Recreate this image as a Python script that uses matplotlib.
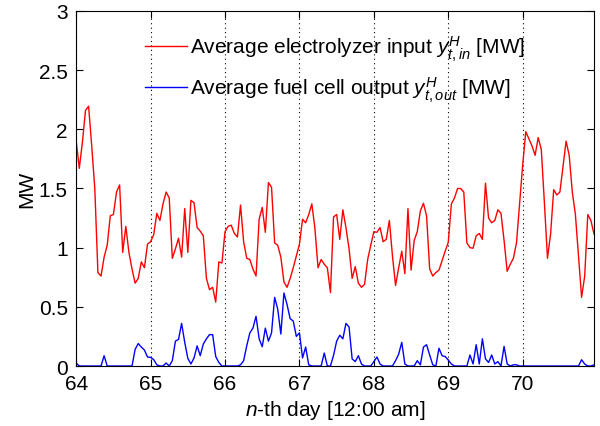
import numpy as np
import matplotlib.pyplot as plt

plt.rcParams['font.family'] = ['Liberation Sans', 'DejaVu Sans']
plt.rcParams['mathtext.fontset'] = 'custom'
plt.rcParams['mathtext.rm'] = 'Liberation Sans'
plt.rcParams['mathtext.it'] = 'Liberation Sans:italic'

start_day = 64

electrolyzer_in = [
    1.90, 1.67, 1.89, 2.16, 2.195, 1.86, 1.50, 0.79, 0.76, 0.92, 1.02, 1.27,
    1.28, 1.47, 1.53, 0.96, 1.18, 0.96, 0.82, 0.70, 0.74, 0.88, 0.83, 1.03,
    1.05, 1.11, 1.29, 1.23, 1.37, 1.47, 1.42, 0.91, 0.99, 1.08, 0.92, 1.33,
    0.96, 1.40, 1.38, 1.17, 1.14, 1.10, 0.74, 0.645, 0.665, 0.54, 0.88, 0.87,
    1.135, 1.18, 1.19, 1.12, 1.09, 1.36, 1.05, 0.91, 0.90, 0.82, 0.76, 1.24,
    1.34, 1.13, 1.55, 1.51, 1.04, 1.02, 0.92, 0.71, 0.665, 0.74, 0.83, 0.93,
    1.03, 1.24, 1.21, 1.28, 1.37, 1.16, 0.83, 0.90, 0.86, 0.83, 0.62, 1.26,
    1.28, 1.07, 1.32, 1.17, 0.99, 0.74, 0.84, 0.70, 0.665, 0.69, 0.90, 1.02,
    1.135, 1.13, 1.17, 1.05, 1.07, 1.23, 0.93, 0.68, 0.83, 0.97, 0.78, 1.33,
    0.81, 1.06, 1.135, 1.31, 1.375, 1.27, 0.82, 0.76, 0.79, 0.81, 0.89, 0.97,
    1.045, 1.37, 1.42, 1.50, 1.50, 1.47, 1.04, 1.00, 0.995, 1.10, 1.12, 1.07,
    1.545, 1.25, 1.21, 1.23, 1.32, 1.29, 1.06, 0.80, 0.86, 0.91, 1.04, 1.37,
    1.70, 1.98, 1.92, 1.86, 1.78, 1.93, 1.83, 1.38, 0.91, 1.115, 1.49, 1.445,
    1.47, 1.685, 1.90, 1.78, 1.47, 1.28, 0.93, 0.58, 0.76, 1.28, 1.23, 1.115,
]

fuel_cell_out = [
    0.025, 0.0, 0.0, 0.0, 0.0, 0.0, 0.0, 0.0, 0.0, 0.087, 0.0, 0.0,
    0.0, 0.0, 0.0, 0.0, 0.0, 0.0, 0.0, 0.14, 0.19, 0.16, 0.135, 0.076,
    0.073, 0.054, 0.01, 0.0, 0.0, 0.025, 0.0, 0.045, 0.21, 0.225, 0.36, 0.20,
    0.065, 0.017, 0.068, 0.17, 0.087, 0.186, 0.23, 0.265, 0.265, 0.08, 0.03, 0.0,
    0.0, 0.0, 0.0, 0.0, 0.0, 0.01, 0.045, 0.17, 0.28, 0.32, 0.42, 0.23,
    0.163, 0.32, 0.21, 0.28, 0.58, 0.48, 0.27, 0.617, 0.52, 0.40, 0.38, 0.25,
    0.28, 0.068, 0.16, 0.01, 0.0, 0.0, 0.0, 0.0, 0.11, 0.0, 0.0, 0.09,
    0.21, 0.26, 0.23, 0.36, 0.33, 0.06, 0.037, 0.087, 0.017, 0.0, 0.0, 0.0,
    0.037, 0.076, 0.017, 0.0, 0.0, 0.0, 0.0, 0.045, 0.10, 0.20, 0.017, 0.0,
    0.0, 0.0, 0.045, 0.01, 0.16, 0.18, 0.093, 0.01, 0.0, 0.15, 0.087, 0.08,
    0.05, 0.017, 0.0, 0.0, 0.0, 0.0, 0.0, 0.093, 0.017, 0.18, 0.017, 0.23,
    0.06, 0.03, 0.093, 0.017, 0.037, 0.0, 0.166, 0.017, 0.0, 0.01, 0.01, 0.0,
    0.0, 0.0, 0.0, 0.0, 0.0, 0.0, 0.0, 0.0, 0.0, 0.0, 0.0, 0.0,
    0.0, 0.0, 0.0, 0.0, 0.0, 0.0, 0.0, 0.053, 0.017, 0.0, 0.0, 0.01,
]

hours = np.arange(len(electrolyzer_in))
days = start_day + hours / 24

fig = plt.figure(figsize=(6, 4.27), dpi=100)
ax = fig.add_axes([0.127, 0.1405, 0.863, 0.8315])

ax.plot(days, electrolyzer_in, color='red', lw=1,
        label='Average electrolyzer input $y^{H}_{t,in}$ [MW]')
ax.plot(days, fuel_cell_out, color='blue', lw=1,
        label='Average fuel cell output $y^{H}_{t,out}$ [MW]')

ax.set_xlim(start_day, days[-1])
ax.set_ylim(0, 3)
ax.set_xticks(np.arange(64, 71))
ax.set_yticks(np.arange(0, 3.01, 0.5))
ax.set_yticklabels(['0', '0.5', '1', '1.5', '2', '2.5', '3'])
ax.grid(axis='x', color='black', linestyle=(0, (1, 3)), linewidth=0.8)
ax.tick_params(direction='in', top=True, right=True, labelsize=15, length=5, pad=6)

ax.set_xlabel('$n$-th day [12:00 am]', fontsize=15, labelpad=3)
ax.set_ylabel('MW', fontsize=15, labelpad=2)

ax.legend(loc='upper center', frameon=False, fontsize=15, handlelength=2,
          handletextpad=0.15, labelspacing=0.55, borderaxespad=0.7)

fig.savefig('out.png', dpi=100)
